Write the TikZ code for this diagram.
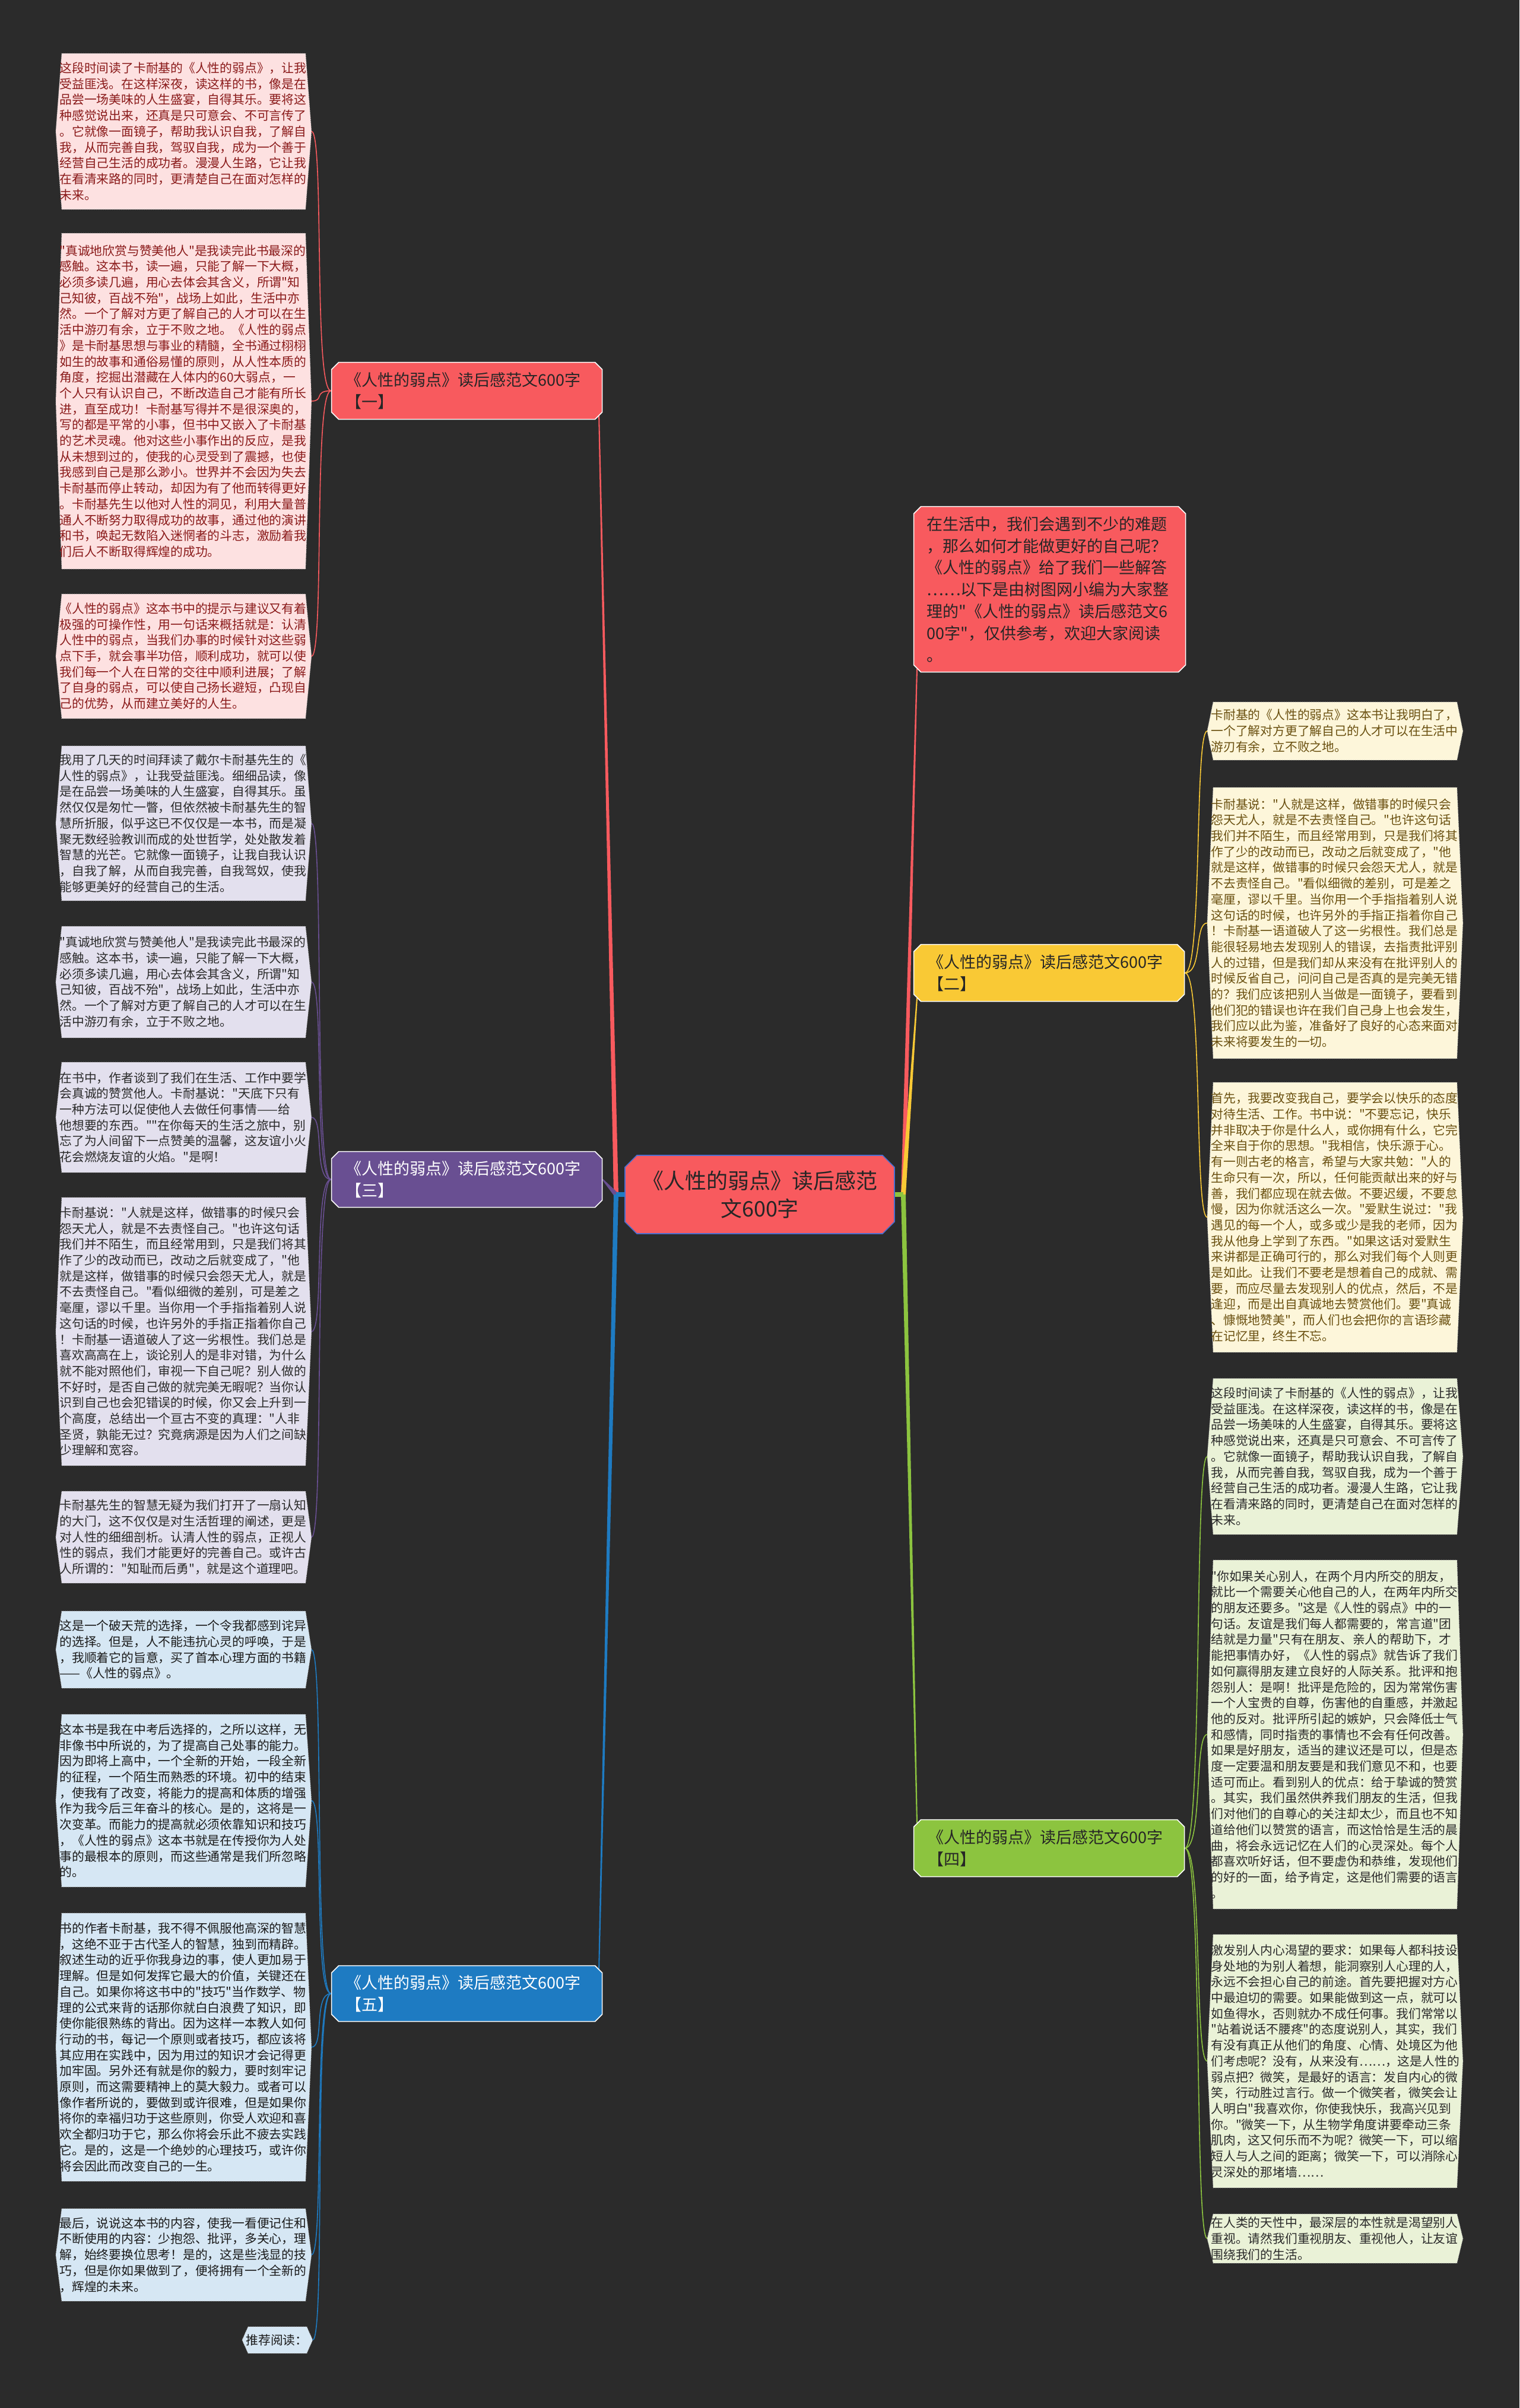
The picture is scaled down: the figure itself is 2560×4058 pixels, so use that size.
\documentclass[tikz,border=0pt]{standalone}
\usepackage{fontspec}
\setmainfont{Noto Sans CJK SC}
\newfontfamily\cjkf{Noto Sans CJK SC}
\usetikzlibrary{calc,shapes.misc}
\pgfdeclarelayer{back}
\pgfdeclarelayer{bg}
\pgfsetlayers{back,bg,main}
\definecolor{bgc}{HTML}{2B2B2B}
\definecolor{redm}{HTML}{F85A5E}
\definecolor{yel}{HTML}{F9C935}
\definecolor{pur}{HTML}{694F92}
\definecolor{grn}{HTML}{8CC43F}
\definecolor{blu}{HTML}{1E7BC2}
\definecolor{cblue}{HTML}{4A6FD0}
\definecolor{darkt}{HTML}{262626}
\definecolor{pinkf}{HTML}{FDE1E1}
\definecolor{pinkt}{HTML}{8A1A1A}
\definecolor{lavf}{HTML}{E3E0EE}
\definecolor{lavt}{HTML}{2A2A2A}
\definecolor{ltbf}{HTML}{D6E7F4}
\definecolor{ltbt}{HTML}{1A1A1A}
\definecolor{cremf}{HTML}{FDF6DA}
\definecolor{cremt}{HTML}{6A5010}
\definecolor{ltgf}{HTML}{EAF2D7}
\definecolor{ltgt}{HTML}{2A2A2A}
\definecolor{leafb}{HTML}{BBBBBB}
\newcommand\mytaper[4]{\fill[#3] ($(#1)!#4!90:(#2)$) -- ($(#2)!0.5pt!-90:(#1)$) -- ($(#2)!0.5pt!90:(#1)$) -- ($(#1)!#4!-90:(#2)$) -- cycle;}
\tikzset{
 leafbase/.style={anchor=north west, inner xsep=0pt, inner ysep=0pt, text width=209pt, align=left, font=\cjkf\fontsize{10.4pt}{13.35pt}\selectfont},
 lpink/.style={leafbase, text=pinkt},
 llav/.style={leafbase, text=lavt},
 lblu/.style={leafbase, text=ltbt},
 lcre/.style={leafbase, text=cremt},
 lgrn/.style={leafbase, text=ltgt},
 mainnode/.style={chamfered rectangle, chamfered rectangle xsep=3pt, chamfered rectangle ysep=3pt, draw=white, line width=0.8pt, anchor=north west, minimum width=224pt, minimum height=48pt, inner xsep=9pt, inner ysep=0pt, text width=204pt, align=left, font=\cjkf\fontsize{13.5pt}{18.5pt}\selectfont},
 thinconn/.style={line width=0.8pt},
 leafshape/.style={densely dotted, draw=leafb, line width=0.5pt},
}
\begin{document}
\cjkf
\begin{tikzpicture}[x=0.5pt,y=-0.5pt]
\begin{pgfonlayer}{back}
\fill[bgc] (0,0) rectangle (2560,4058);
\end{pgfonlayer}
\useasboundingbox (0,0) rectangle (2560,4058);

% center
\node[chamfered rectangle, chamfered rectangle xsep=5pt, chamfered rectangle ysep=5pt, fill=redm, draw=cblue, line width=0.8pt, minimum width=227pt, minimum height=66pt, inner sep=0pt, align=center, text=darkt, font=\cjkf\fontsize{18pt}{23.5pt}\selectfont] (c) at (1280,2013) {《人性的弱点》读后感范\\文600字};

% intro
\node[mainnode, fill=redm, text=darkt, minimum height=139.5pt, inner xsep=8pt, text width=207pt, font=\cjkf\fontsize{13.5pt}{18.4pt}\selectfont] (intro) at (1545,859) {在生活中，我们会遇到不少的难题\\
，那么如何才能做更好的自己呢？\\
《人性的弱点》给了我们一些解答\\
……以下是由树图网小编为大家整\\
理的"《人性的弱点》读后感范文6\\
00字"，仅供参考，欢迎大家阅读\\
。};

% main nodes
\node[mainnode, fill=redm, text=darkt] (n1) at (564,616) {《人性的弱点》读后感范文600字\\【一】};
\node[mainnode, fill=pur, text=white, minimum height=47pt] (n3) at (564,1946) {《人性的弱点》读后感范文600字\\【三】};
\node[mainnode, fill=blu, text=white, minimum height=47pt] (n5) at (564,3318) {《人性的弱点》读后感范文600字\\【五】};
\node[mainnode, fill=yel, text=darkt] (n2) at (1545,1597) {《人性的弱点》读后感范文600字\\【二】};
\node[mainnode, fill=grn, text=darkt] (n4) at (1545,3072) {《人性的弱点》读后感范文600字\\【四】};

% left leaves
\node[lpink, minimum height=131pt] (L1) at (100,90) {这段时间读了卡耐基的《人性的弱点》，让我\\
受益匪浅。在这样深夜，读这样的书，像是在\\
品尝一场美味的人生盛宴，自得其乐。要将这\\
种感觉说出来，还真是只可意会、不可言传了\\
。它就像一面镜子，帮助我认识自我，了解自\\
我，从而完善自我，驾驭自我，成为一个善于\\
经营自己生活的成功者。漫漫人生路，它让我\\
在看清来路的同时，更清楚自己在面对怎样的\\
未来。};
\node[lpink, minimum height=282.5pt] (L2) at (100,393) {"真诚地欣赏与赞美他人"是我读完此书最深的\\
感触。这本书，读一遍，只能了解一下大概，\\
必须多读几遍，用心去体会其含义，所谓"知\\
己知彼，百战不殆"，战场上如此，生活中亦\\
然。一个了解对方更了解自己的人才可以在生\\
活中游刃有余，立于不败之地。《人性的弱点\\
》是卡耐基思想与事业的精髓，全书通过栩栩\\
如生的故事和通俗易懂的原则，从人性本质的\\
角度，挖掘出潜藏在人体内的60大弱点，一\\
个人只有认识自己，不断改造自己才能有所长\\
进，直至成功！卡耐基写得并不是很深奥的，\\
写的都是平常的小事，但书中又嵌入了卡耐基\\
的艺术灵魂。他对这些小事作出的反应，是我\\
从未想到过的，使我的心灵受到了震撼，也使\\
我感到自己是那么渺小。世界并不会因为失去\\
卡耐基而停止转动，却因为有了他而转得更好\\
。卡耐基先生以他对人性的洞见，利用大量普\\
通人不断努力取得成功的故事，通过他的演讲\\
和书，唤起无数陷入迷惘者的斗志，激励着我\\
们后人不断取得辉煌的成功。};
\node[lpink, minimum height=104.5pt] (L3) at (100,1001) {《人性的弱点》这本书中的提示与建议又有着\\
极强的可操作性，用一句话来概括就是：认清\\
人性中的弱点，当我们办事的时候针对这些弱\\
点下手，就会事半功倍，顺利成功，就可以使\\
我们每一个人在日常的交往中顺利进展；了解\\
了自身的弱点，可以使自己扬长避短，凸现自\\
己的优势，从而建立美好的人生。};
\node[llav, minimum height=130pt] (L4) at (100,1257) {我用了几天的时间拜读了戴尔卡耐基先生的《\\
人性的弱点》，让我受益匪浅。细细品读，像\\
是在品尝一场美味的人生盛宴，自得其乐。虽\\
然仅仅是匆忙一瞥，但依然被卡耐基先生的智\\
慧所折服，似乎这已不仅仅是一本书，而是凝\\
聚无数经验教训而成的处世哲学，处处散发着\\
智慧的光芒。它就像一面镜子，让我自我认识\\
，自我了解，从而自我完善，自我驾奴，使我\\
能够更美好的经营自己的生活。};
\node[llav, minimum height=93.5pt] (L5) at (100,1561) {"真诚地欣赏与赞美他人"是我读完此书最深的\\
感触。这本书，读一遍，只能了解一下大概，\\
必须多读几遍，用心去体会其含义，所谓"知\\
己知彼，百战不殆"，战场上如此，生活中亦\\
然。一个了解对方更了解自己的人才可以在生\\
活中游刃有余，立于不败之地。};
\node[llav, minimum height=92.5pt] (L6) at (100,1790) {在书中，作者谈到了我们在生活、工作中要学\\
会真诚的赞赏他人。卡耐基说："天底下只有\\
一种方法可以促使他人去做任何事情——给\\
他想要的东西。""在你每天的生活之旅中，别\\
忘了为人间留下一点赞美的温馨，这友谊小火\\
花会燃烧友谊的火焰。"是啊！};
\node[llav, minimum height=225.5pt] (L7) at (100,2018) {卡耐基说："人就是这样，做错事的时候只会\\
怨天尤人，就是不去责怪自己。"也许这句话\\
我们并不陌生，而且经常用到，只是我们将其\\
作了少的改动而已，改动之后就变成了，"他\\
就是这样，做错事的时候只会怨天尤人，就是\\
不去责怪自己。"看似细微的差别，可是差之\\
毫厘，谬以千里。当你用一个手指指着别人说\\
这句话的时候，也许另外的手指正指着你自己\\
！卡耐基一语道破人了这一劣根性。我们总是\\
喜欢高高在上，谈论别人的是非对错，为什么\\
就不能对照他们，审视一下自己呢？别人做的\\
不好时，是否自己做的就完美无暇呢？当你认\\
识到自己也会犯错误的时候，你又会上升到一\\
个高度，总结出一个亘古不变的真理："人非\\
圣贤，孰能无过？究竟病源是因为人们之间缺\\
少理解和宽容。};
\node[llav, minimum height=77pt] (L8) at (100,2513) {卡耐基先生的智慧无疑为我们打开了一扇认知\\
的大门，这不仅仅是对生活哲理的阐述，更是\\
对人性的细细剖析。认清人性的弱点，正视人\\
性的弱点，我们才能更好的完善自己。或许古\\
人所谓的："知耻而后勇"，就是这个道理吧。};
\node[lblu, minimum height=64.5pt] (L9) at (100,2715) {这是一个破天荒的选择，一个令我都感到诧异\\
的选择。但是，人不能违抗心灵的呼唤，于是\\
，我顺着它的旨意，买了首本心理方面的书籍\\
——《人性的弱点》。};
\node[lblu, minimum height=145pt] (L10) at (100,2889) {这本书是我在中考后选择的，之所以这样，无\\
非像书中所说的，为了提高自己处事的能力。\\
因为即将上高中，一个全新的开始，一段全新\\
的征程，一个陌生而熟悉的环境。初中的结束\\
，使我有了改变，将能力的提高和体质的增强\\
作为我今后三年奋斗的核心。是的，这将是一\\
次变革。而能力的提高就必须依靠知识和技巧\\
，《人性的弱点》这本书就是在传授你为人处\\
事的最根本的原则，而这些通常是我们所忽略\\
的。};
\node[lblu, minimum height=225.5pt] (L11) at (100,3224) {书的作者卡耐基，我不得不佩服他高深的智慧\\
，这绝不亚于古代圣人的智慧，独到而精辟。\\
叙述生动的近乎你我身边的事，使人更加易于\\
理解。但是如何发挥它最大的价值，关键还在\\
自己。如果你将这书中的"技巧"当作数学、物\\
理的公式来背的话那你就白白浪费了知识，即\\
使你能很熟练的背出。因为这样一本教人如何\\
行动的书，每记一个原则或者技巧，都应该将\\
其应用在实践中，因为用过的知识才会记得更\\
加牢固。另外还有就是你的毅力，要时刻牢记\\
原则，而这需要精神上的莫大毅力。或者可以\\
像作者所说的，要做到或许很难，但是如果你\\
将你的幸福归功于这些原则，你受人欢迎和喜\\
欢全都归功于它，那么你将会乐此不疲去实践\\
它。是的，这是一个绝妙的心理技巧，或许你\\
将会因此而改变自己的一生。};
\node[lblu, minimum height=77.5pt] (L12) at (100,3722) {最后，说说这本书的内容，使我一看便记住和\\
不断使用的内容：少抱怨、批评，多关心，理\\
解，始终要换位思考！是的，这是些浅显的技\\
巧，但是你如果做到了，便将拥有一个全新的\\
，辉煌的未来。};
\node[anchor=north west, inner xsep=0pt, inner ysep=0pt, text width=53pt, align=left, text=ltbt, minimum height=22pt, font=\cjkf\fontsize{10.4pt}{13.35pt}\selectfont] (rec) at (414,3921) {推荐阅读：};

% right leaves
\node[lcre, minimum height=48.5pt] (R1) at (2040,1183) {卡耐基的《人性的弱点》这本书让我明白了，\\
一个了解对方更了解自己的人才可以在生活中\\
游刃有余，立不败之地。};
\node[lcre, minimum height=228pt] (R2) at (2040,1327) {卡耐基说："人就是这样，做错事的时候只会\\
怨天尤人，就是不去责怪自己。"也许这句话\\
我们并不陌生，而且经常用到，只是我们将其\\
作了少的改动而已，改动之后就变成了，"他\\
就是这样，做错事的时候只会怨天尤人，就是\\
不去责怪自己。"看似细微的差别，可是差之\\
毫厘，谬以千里。当你用一个手指指着别人说\\
这句话的时候，也许另外的手指正指着你自己\\
！卡耐基一语道破人了这一劣根性。我们总是\\
能很轻易地去发现别人的错误，去指责批评别\\
人的过错，但是我们却从来没有在批评别人的\\
时候反省自己，问问自己是否真的是完美无错\\
的？我们应该把别人当做是一面镜子，要看到\\
他们犯的错误也许在我们自己身上也会发生，\\
我们应以此为鉴，准备好了良好的心态来面对\\
未来将要发生的一切。};
\node[lcre, minimum height=227pt] (R3) at (2040,1824) {首先，我要改变我自己，要学会以快乐的态度\\
对待生活、工作。书中说："不要忘记，快乐\\
并非取决于你是什么人，或你拥有什么，它完\\
全来自于你的思想。"我相信，快乐源于心。\\
有一则古老的格言，希望与大家共勉："人的\\
生命只有一次，所以，任何能贡献出来的好与\\
善，我们都应现在就去做。不要迟缓，不要怠\\
慢，因为你就活这么一次。"爱默生说过："我\\
遇见的每一个人，或多或少是我的老师，因为\\
我从他身上学到了东西。"如果这话对爱默生\\
来讲都是正确可行的，那么对我们每个人则更\\
是如此。让我们不要老是想着自己的成就、需\\
要，而应尽量去发现别人的优点，然后，不是\\
逢迎，而是出自真诚地去赞赏他们。要"真诚\\
、慷慨地赞美"，而人们也会把你的言语珍藏\\
在记忆里，终生不忘。};
\node[lgrn, minimum height=131pt] (R4) at (2040,2323) {这段时间读了卡耐基的《人性的弱点》，让我\\
受益匪浅。在这样深夜，读这样的书，像是在\\
品尝一场美味的人生盛宴，自得其乐。要将这\\
种感觉说出来，还真是只可意会、不可言传了\\
。它就像一面镜子，帮助我认识自我，了解自\\
我，从而完善自我，驾驭自我，成为一个善于\\
经营自己生活的成功者。漫漫人生路，它让我\\
在看清来路的同时，更清楚自己在面对怎样的\\
未来。};
\node[lgrn, minimum height=293.5pt] (R5) at (2040,2629) {"你如果关心别人，在两个月内所交的朋友，\\
就比一个需要关心他自己的人，在两年内所交\\
的朋友还要多。"这是《人性的弱点》中的一\\
句话。友谊是我们每人都需要的，常言道"团\\
结就是力量"只有在朋友、亲人的帮助下，才\\
能把事情办好，《人性的弱点》就告诉了我们\\
如何赢得朋友建立良好的人际关系。批评和抱\\
怨别人：是啊！批评是危险的，因为常常伤害\\
一个人宝贵的自尊，伤害他的自重感，并激起\\
他的反对。批评所引起的嫉妒，只会降低士气\\
和感情，同时指责的事情也不会有任何改善。\\
如果是好朋友，适当的建议还是可以，但是态\\
度一定要温和朋友要是和我们意见不和，也要\\
适可而止。看到别人的优点：给于挚诚的赞赏\\
。其实，我们虽然供养我们朋友的生活，但我\\
们对他们的自尊心的关注却太少，而且也不知\\
道给他们以赞赏的语言，而这恰恰是生活的晨\\
曲，将会永远记忆在人们的心灵深处。每个人\\
都喜欢听好话，但不要虚伪和恭维，发现他们\\
的好的一面，给予肯定，这是他们需要的语言\\
。};
\node[lgrn, minimum height=213pt] (R6) at (2040,3260) {激发别人内心渴望的要求：如果每人都科技设\\
身处地的为别人着想，能洞察别人心理的人，\\
永远不会担心自己的前途。首先要把握对方心\\
中最迫切的需要。如果能做到这一点，就可以\\
如鱼得水，否则就办不成任何事。我们常常以\\
"站着说话不腰疼"的态度说别人，其实，我们\\
有没有真正从他们的角度、心情、处境区为他\\
们考虑呢？没有，从来没有……，这是人性的\\
弱点把？微笑，是最好的语言：发自内心的微\\
笑，行动胜过言行。做一个微笑者，微笑会让\\
人明白"我喜欢你，你使我快乐，我高兴见到\\
你。"微笑一下，从生物学角度讲要牵动三条\\
肌肉，这又何乐而不为呢？微笑一下，可以缩\\
短人与人之间的距离；微笑一下，可以消除心\\
灵深处的那堵墙……};
\node[lgrn, minimum height=41pt] (R7) at (2040,3731) {在人类的天性中，最深层的本性就是渴望别人\\
重视。请然我们重视朋友、重视他人，让友谊\\
围绕我们的生活。};

\begin{pgfonlayer}{bg}
% leaf shapes
\foreach \n/\f in {L1/pinkf,L2/pinkf,L3/pinkf,L4/lavf,L5/lavf,L6/lavf,L7/lavf,L8/lavf,L9/ltbf,L10/ltbf,L11/ltbf,L12/ltbf,rec/ltbf,R1/cremf,R2/cremf,R3/cremf,R4/ltgf,R5/ltgf,R6/ltgf,R7/ltgf}{
 \filldraw[leafshape, fill=\f] ($(\n.north west)+(4,0)$) -- ($(\n.north east)+(-4,0)$) -- ($(\n.east)+(6,0)$) -- ($(\n.south east)+(-4,0)$) -- ($(\n.south west)+(4,0)$) -- ($(\n.west)+(-6,0)$) -- cycle;
}
% thick tapered connectors from centre
\coordinate (jl) at (1038,2013);
\coordinate (jr) at (1522,2013);
\mytaper{jl}{n1.south east}{redm}{2pt}
\mytaper{jl}{n3.east}{pur}{2pt}
\mytaper{jl}{n5.north east}{blu}{2pt}
\draw[blu, line width=4pt] (jl) -- (c.west);
\mytaper{jr}{intro.south west}{redm}{2pt}
\mytaper{jr}{n2.south west}{yel}{2pt}
\mytaper{jr}{n4.north west}{grn}{2pt}
\draw[grn, line width=4pt] (jr) -- (c.east);
% thin connectors to leaves
\foreach \l in {L1,L2,L3}{\draw[thinconn, redm] (n1.west) .. controls +(-30,0) and +(22,0) .. ($(\l.east)+(6,0)$);}
\foreach \l in {L4,L5,L6,L7,L8}{\draw[thinconn, pur] (n3.west) .. controls +(-30,0) and +(22,0) .. ($(\l.east)+(6,0)$);}
\foreach \l in {L9,L10,L11,L12,rec}{\draw[thinconn, blu] (n5.west) .. controls +(-30,0) and +(22,0) .. ($(\l.east)+(6,0)$);}
\foreach \l in {R1,R2,R3}{\draw[thinconn, yel] (n2.east) .. controls +(30,0) and +(-22,0) .. ($(\l.west)+(-6,0)$);}
\foreach \l in {R4,R5,R6,R7}{\draw[thinconn, grn] (n4.east) .. controls +(30,0) and +(-22,0) .. ($(\l.west)+(-6,0)$);}
\end{pgfonlayer}
\end{tikzpicture}
\end{document}
